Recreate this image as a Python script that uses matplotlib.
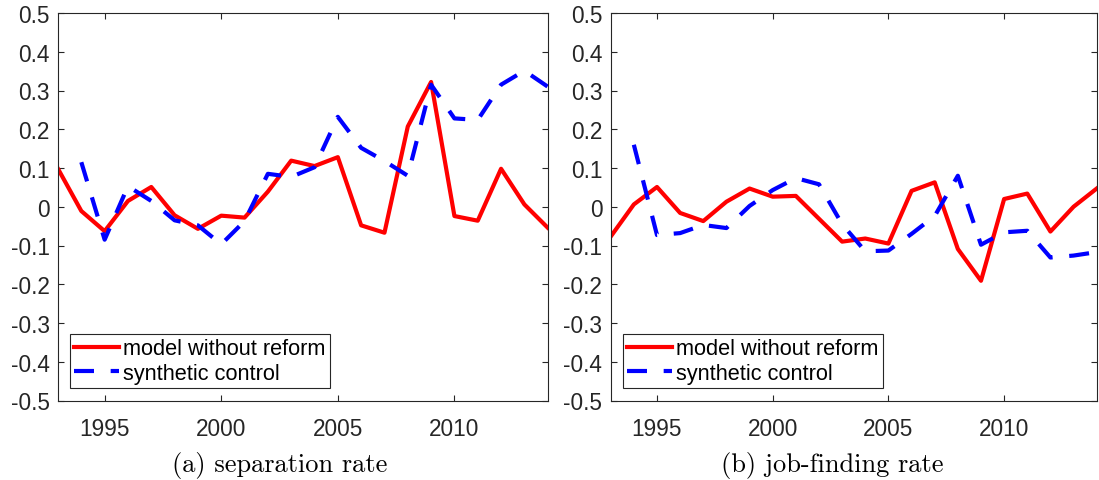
import matplotlib
matplotlib.use("Agg")
import matplotlib.pyplot as plt
import numpy as np

years = list(range(1993, 2015))

# (a) separation rate
sep_model = [0.098, -0.011, -0.063, 0.015, 0.051, -0.022, -0.057, -0.023, -0.028, 0.039,
             0.119, 0.105, 0.128, -0.048, -0.067, 0.207, 0.322, -0.024, -0.036, 0.098,
             0.006, -0.054]
sep_synth = [np.nan, 0.115, -0.085, 0.053, 0.015, -0.035, -0.048, -0.097, -0.037, 0.085,
             0.077, 0.102, 0.232, 0.152, 0.118, 0.08, 0.315, 0.228, 0.224, 0.315,
             0.351, 0.31]

# (b) job-finding rate
jf_model = [-0.077, 0.006, 0.051, -0.016, -0.037, 0.013, 0.047, 0.026, 0.028, -0.031,
            -0.09, -0.082, -0.095, 0.041, 0.063, -0.109, -0.191, 0.02, 0.034, -0.064,
            0.0, 0.047]
jf_synth = [np.nan, 0.16, -0.073, -0.068, -0.047, -0.055, 0.002, 0.043, 0.074, 0.058,
            -0.045, -0.115, -0.113, -0.07, -0.024, 0.08, -0.098, -0.066, -0.062, -0.131,
            -0.126, -0.117]

xticks = [1995, 2000, 2005, 2010]
yticks = [-0.5, -0.4, -0.3, -0.2, -0.1, 0, 0.1, 0.2, 0.3, 0.4, 0.5]
ytick_labels = ["-0.5", "-0.4", "-0.3", "-0.2", "-0.1", "0", "0.1", "0.2", "0.3", "0.4", "0.5"]
captions = ["(a) separation rate", "(b) job-finding rate"]

plt.rcParams["font.family"] = ["Liberation Sans", "DejaVu Sans"]

fig = plt.figure(figsize=(10.99, 4.81), dpi=100)
ax1 = fig.add_axes([58 / 1099, 79.5 / 481, 489.7 / 1099, 387.5 / 481])
ax2 = fig.add_axes([610.7 / 1099, 79.5 / 481, 486 / 1099, 387.5 / 481])

axcol = "#262626"
for ax, model, synth in [(ax1, sep_model, sep_synth), (ax2, jf_model, jf_synth)]:
    ax.plot(years, model, color="red", lw=3, label="model without reform")
    l, = ax.plot(years, synth, color="blue", lw=3, label="synthetic control")
    l.set_dashes([4.8, 4])
    ax.set_xlim(1993, 2014)
    ax.set_ylim(-0.5, 0.5)
    ax.set_xticks(xticks)
    ax.set_xticklabels([str(t) for t in xticks])
    ax.set_yticks(yticks)
    ax.set_yticklabels(ytick_labels)
    ax.tick_params(direction="in", length=4, width=0.8, colors=axcol,
                   labelsize=16.3, top=True, right=True)
    ax.tick_params(axis="x", pad=12)
    ax.tick_params(axis="y", pad=6)
    for s in ax.spines.values():
        s.set_color(axcol)
        s.set_linewidth(0.8)
    leg = ax.legend(loc="lower left", bbox_to_anchor=(0.0245, 0.032), borderaxespad=0,
                    fontsize=15.7, handlelength=2.05, handletextpad=0.2,
                    borderpad=0.2, labelspacing=0.15, fancybox=False,
                    framealpha=1, edgecolor=axcol)
    leg.get_frame().set_linewidth(0.8)

fig.text(280 / 1099, 15 / 481, captions[0], ha="center", va="center",
         fontsize=19, family="cmr10")
fig.text(832 / 1099, 15 / 481, captions[1], ha="center", va="center",
         fontsize=19, family="cmr10")

fig.savefig("out.png", dpi=100)
